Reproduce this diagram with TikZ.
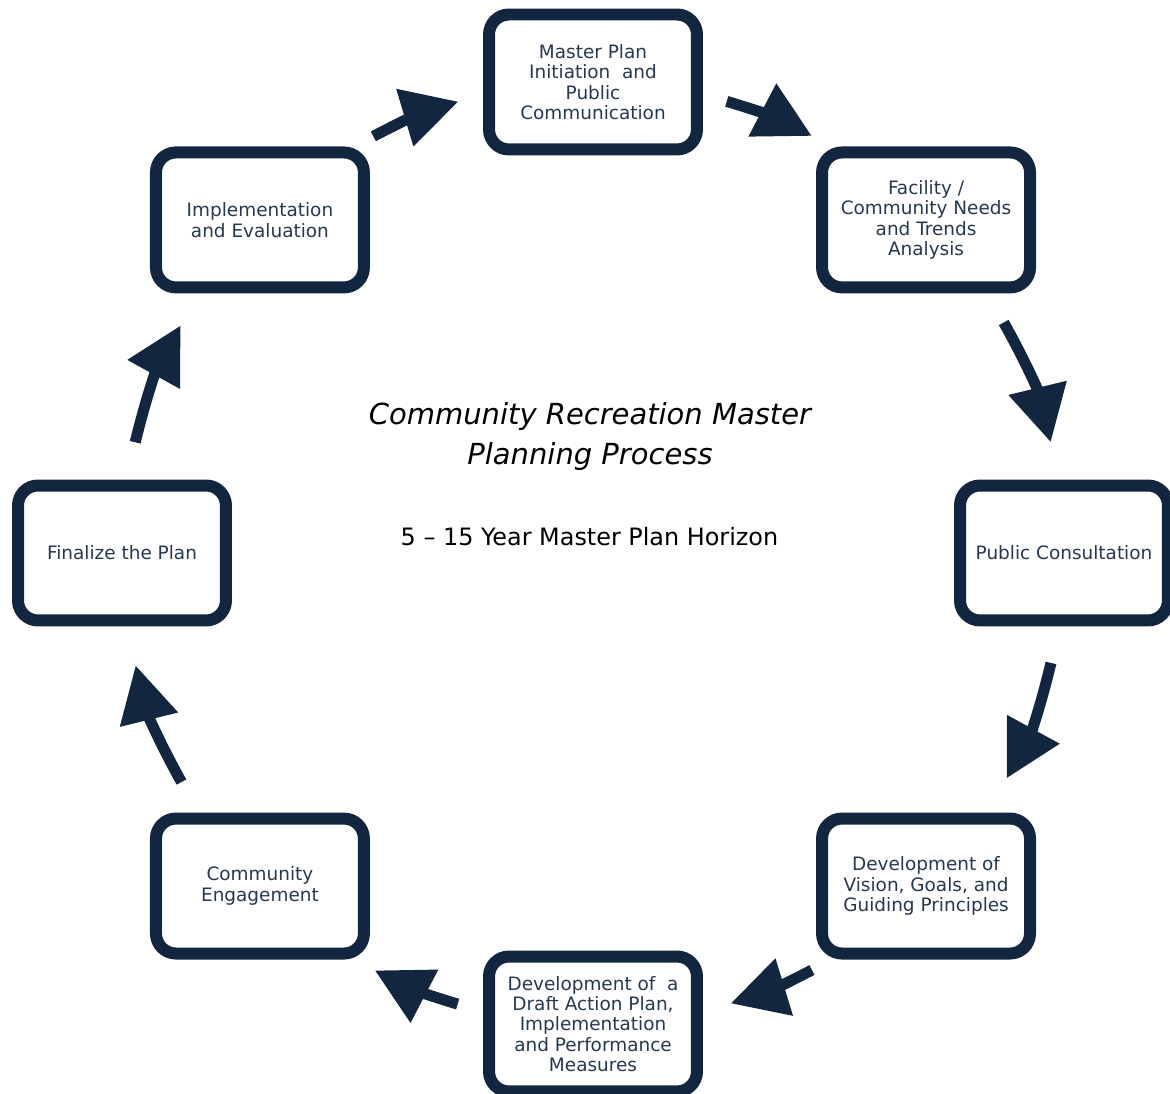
\documentclass[tikz,border=0pt]{standalone}
\usepackage{fontspec}
\setmainfont{DejaVu Sans}
\usepackage{tikz}
\usetikzlibrary{positioning}
\usetikzlibrary{arrows.meta}
\usetikzlibrary{math}
\definecolor{boxblue}{HTML}{13263F}
\definecolor{textblue}{HTML}{263850}

\begin{document}
\begin{tikzpicture}[x=0.02cm,y=0.02cm,
  stage/.style={draw=boxblue, line width=0.24cm, rounded corners=0.4cm,
    minimum width=4.16cm, minimum height=2.7cm, inner sep=0pt,
    align=center, text=textblue, font=\fontsize{10.5}{11.6}\selectfont},
  flow/.style={draw=boxblue, line width=0.22cm,
    -{Triangle[length=1.12cm,width=1.14cm]}},
  heading/.style={align=center, inner sep=0pt,
    font=\itshape\fontsize{16.5}{23.2}\selectfont},
  horizon/.style={inner sep=0pt, font=\fontsize{13.6}{16}\selectfont}]

  \tikzmath{
    \radius = 471; % radius of the cycle (pixels)
  }

  \useasboundingbox (-593,-541) rectangle (577,553);

  % the eight stages, clockwise from the top
  \node[stage] (master)    at (90:\radius)   {Master Plan\\Initiation~ and\\Public\\Communication};
  \node[stage] (needs)     at (45:\radius)   {Facility /\\Community Needs\\and Trends\\Analysis};
  \node[stage] (consult)   at (0:\radius)    {Public Consultation};
  \node[stage] (vision)    at (-45:\radius)  {Development of\\Vision, Goals, and\\Guiding Principles};
  \node[stage] (action)    at (-90:\radius)  {Development of~ a\\Draft Action Plan,\\Implementation\\and Performance\\Measures};
  \node[stage] (engage)    at (-135:\radius) {Community\\Engagement};
  \node[stage] (finalize)  at (180:\radius)  {Finalize the Plan};
  \node[stage] (implement) at (135:\radius)  {Implementation\\and Evaluation};

  % centre text
  \node[heading] (title) at (-3,116.5) {Community Recreation Master\\Planning Process};
  \node[horizon] (span)  at (-3.5,16)  {5 – 15 Year Master Plan Horizon};

  % tails and heads of the arrows on the cycle
  \coordinate (t1) at (117.8:\radius);  \coordinate (h1) at (106.6:\radius);
  \coordinate (t2) at (73.5:\radius);   \coordinate (h2) at (62.3:\radius);
  \coordinate (t3) at (29.3:\radius);   \coordinate (h3) at (13.6:\radius);
  \coordinate (t4) at (-13.5:\radius);  \coordinate (h4) at (-28.6:\radius);
  \coordinate (t5) at (-62.3:\radius);  \coordinate (h5) at (-73.0:\radius);
  \coordinate (t6) at (-106.7:\radius); \coordinate (h6) at (-117.6:\radius);
  \coordinate (t7) at (-150.9:\radius); \coordinate (h7) at (-166.2:\radius);
  \coordinate (t8) at (166.4:\radius);  \coordinate (h8) at (151.1:\radius);

  % arrows, clockwise
  \draw[flow] (t1) to[bend left=5.6]  (h1);
  \draw[flow] (t2) to[bend left=5.6]  (h2);
  \draw[flow] (t3) to[bend left=7.8]  (h3);
  \draw[flow] (t4) to[bend left=7.6]  (h4);
  \draw[flow] (t5) to[bend left=5.4]  (h5);
  \draw[flow] (t6) to[bend left=5.4]  (h6);
  \draw[flow] (t7) to[bend left=7.6]  (h7);
  \draw[flow] (t8) to[bend left=7.6]  (h8);

\end{tikzpicture}
\end{document}
